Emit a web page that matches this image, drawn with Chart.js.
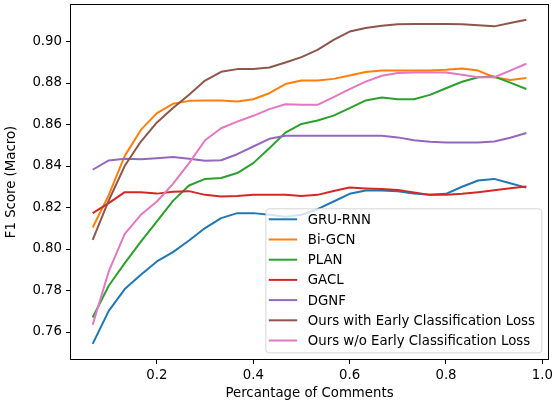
<!DOCTYPE html>
<html>
<head>
<meta charset="utf-8">
<script src="https://cdn.jsdelivr.net/npm/chart.js@4.4.1/dist/chart.umd.min.js"></script>
<style>
  html, body { margin: 0; padding: 0; background: #fff; }
  #wrap { width: 553px; height: 409px; }
</style>
</head>
<body>
<div id="wrap"><canvas id="f1Chart" width="553" height="409"></canvas></div>
<script>
// ===== Datos =====
const pctComments = [0.0667, 0.1, 0.1333, 0.1667, 0.2, 0.2333, 0.2667, 0.3, 0.3333, 0.3667,
  0.4, 0.4333, 0.4667, 0.5, 0.5333, 0.5667, 0.6, 0.6333, 0.6667, 0.7,
  0.7333, 0.7667, 0.8, 0.8333, 0.8667, 0.9, 0.9333, 0.9667];

const xTicks = [0.2, 0.4, 0.6, 0.8, 1.0];
const yTicks = [0.76, 0.78, 0.80, 0.82, 0.84, 0.86, 0.88, 0.90];

const gruRnn = [0.7543, 0.7702, 0.7807, 0.7876, 0.7940, 0.7985, 0.8041, 0.8101, 0.8149, 0.8173,
  0.8173, 0.8165, 0.8155, 0.8165, 0.8192, 0.8229, 0.8266, 0.8282, 0.8282, 0.8278,
  0.8268, 0.8261, 0.8266, 0.8300, 0.8330, 0.8338, 0.8317, 0.8296];
const biGcn = [0.8104, 0.8260, 0.8449, 0.8574, 0.8655, 0.8700, 0.8714, 0.8716, 0.8716, 0.8711,
  0.8722, 0.8751, 0.8795, 0.8812, 0.8812, 0.8820, 0.8836, 0.8853, 0.8860, 0.8860,
  0.8860, 0.8860, 0.8864, 0.8870, 0.8860, 0.8828, 0.8815, 0.8824];
const plan = [0.7670, 0.7823, 0.7932, 0.8036, 0.8133, 0.8232, 0.8306, 0.8338, 0.8342, 0.8366,
  0.8414, 0.8486, 0.8561, 0.8603, 0.8619, 0.8643, 0.8679, 0.8716, 0.8730, 0.8722,
  0.8722, 0.8743, 0.8775, 0.8806, 0.8828, 0.8831, 0.8802, 0.8771];
const gacl = [0.8173, 0.8221, 0.8274, 0.8274, 0.8267, 0.8276, 0.8279, 0.8261, 0.8253, 0.8256,
  0.8261, 0.8261, 0.8261, 0.8256, 0.8261, 0.8280, 0.8296, 0.8292, 0.8289, 0.8285,
  0.8273, 0.8261, 0.8261, 0.8266, 0.8274, 0.8283, 0.8293, 0.8301];
const dgnf = [0.8382, 0.8427, 0.8435, 0.8433, 0.8438, 0.8443, 0.8435, 0.8425, 0.8428, 0.8457,
  0.8494, 0.8531, 0.8546, 0.8546, 0.8546, 0.8546, 0.8546, 0.8546, 0.8546, 0.8538,
  0.8524, 0.8517, 0.8513, 0.8513, 0.8513, 0.8518, 0.8536, 0.8559];
const oursEcl = [0.8044, 0.8234, 0.8401, 0.8518, 0.8610, 0.8680, 0.8743, 0.8812, 0.8854, 0.8867,
  0.8868, 0.8875, 0.8899, 0.8925, 0.8960, 0.9008, 0.9048, 0.9065, 0.9076, 0.9083,
  0.9085, 0.9085, 0.9085, 0.9083, 0.9078, 0.9073, 0.9089, 0.9105];
const oursNoEcl = [0.7635, 0.7892, 0.8073, 0.8165, 0.8229, 0.8314, 0.8414, 0.8524, 0.8582, 0.8614,
  0.8642, 0.8674, 0.8698, 0.8695, 0.8695, 0.8732, 0.8771, 0.8807, 0.8835, 0.8848,
  0.8851, 0.8851, 0.8851, 0.8840, 0.8828, 0.8828, 0.8860, 0.8893];

const seriesNames = ['GRU-RNN', 'Bi-GCN', 'PLAN', 'GACL', 'DGNF',
  'Ours with Early Classification Loss', 'Ours w/o Early Classification Loss'];
const seriesValues = [gruRnn, biGcn, plan, gacl, dgnf, oursEcl, oursNoEcl];
const seriesColors = ['#1f77b4', '#ff7f0e', '#2ca02c', '#d62728', '#9467bd', '#8c564b', '#e377c2'];

// ===== Estilo =====
const FONT_PX = 13.3;
const FONT_FAMILY = '"DejaVu Sans", sans-serif';

Chart.defaults.font.family = FONT_FAMILY;
Chart.defaults.font.size = FONT_PX;
Chart.defaults.color = '#000';

// marco completo del área (como los spines de matplotlib)
const frameBox = {
  id: 'frameBox',
  afterDatasetsDraw(chart) {
    const { ctx, chartArea: a } = chart;
    ctx.save();
    ctx.strokeStyle = '#000';
    ctx.lineWidth = 1;
    ctx.strokeRect(a.left - 0.5, a.top - 0.5, a.right - a.left + 1, a.bottom - a.top + 1);
    ctx.restore();
  }
};

// leyenda dentro del área, abajo a la derecha
const insideLegend = {
  id: 'insideLegend',
  afterDraw(chart) {
    const { ctx, chartArea: a } = chart;
    const sets = chart.data.datasets;
    ctx.save();
    ctx.font = FONT_PX + 'px ' + FONT_FAMILY;
    const textW = Math.max(...sets.map(d => ctx.measureText(d.label).width));
    const rowH = 20.2;
    const right = a.right - 6.7;
    const bottom = a.bottom - 6.7;
    const h = 144;
    const top = bottom - h;
    const textX = right - 6.4 - textW;
    const handleEnd = textX - 10.6;
    const handleStart = handleEnd - 28.4;
    const left = handleStart - 3.4;

    ctx.beginPath();
    ctx.roundRect(left + 0.5, top + 0.5, right - left, h, 3);
    ctx.fillStyle = 'rgba(255,255,255,0.8)';
    ctx.fill();
    ctx.strokeStyle = 'rgba(204,204,204,0.8)';
    ctx.lineWidth = 1;
    ctx.stroke();

    ctx.textBaseline = 'middle';
    ctx.textAlign = 'left';
    sets.forEach((d, i) => {
      const y = top + 11 + i * rowH;
      ctx.beginPath();
      ctx.moveTo(handleStart, y);
      ctx.lineTo(handleEnd, y);
      ctx.strokeStyle = d.borderColor;
      ctx.lineWidth = 2;
      ctx.stroke();
      ctx.fillStyle = '#000';
      ctx.fillText(d.label, textX, y + 1);
    });
    ctx.restore();
  }
};

const datasets = seriesNames.map((name, i) => ({
  label: name,
  data: pctComments.map((x, j) => ({ x: x, y: seriesValues[i][j] })),
  borderColor: seriesColors[i],
  backgroundColor: seriesColors[i],
  borderWidth: 2,
  pointRadius: 0,
  tension: 0,
  borderJoinStyle: 'round',
  fill: false,
  order: seriesNames.length - i   // la última serie queda arriba, como en matplotlib
}));

const ctx = document.getElementById('f1Chart').getContext('2d');
const chart = new Chart(ctx, {
  type: 'line',
  data: { datasets: datasets },
  options: {
    responsive: false,
    animation: false,
    layout: { padding: { top: 5, right: 5, left: 0, bottom: 0 } },
    plugins: {
      legend: { display: false },
      tooltip: { enabled: false }
    },
    scales: {
      x: {
        type: 'linear',
        min: 0.0217,
        max: 1.0117,
        afterBuildTicks: s => { s.ticks = xTicks.map(v => ({ value: v })); },
        afterFit: s => { s.height = 50; s.paddingLeft = 0; s.paddingRight = 0; },
        ticks: {
          autoSkip: false,
          maxRotation: 0,
          padding: 4,
          color: '#000',
          callback: v => Number(v).toFixed(1)
        },
        grid: {
          drawOnChartArea: false,
          drawTicks: true,
          tickLength: 5,
          tickColor: '#000',
          tickWidth: 1
        },
        border: { display: false },
        title: {
          display: true,
          text: 'Percantage of Comments',
          color: '#000',
          padding: { top: 0, bottom: 7 }
        }
      },
      y: {
        type: 'linear',
        min: 0.747,
        max: 0.9176,
        afterBuildTicks: s => { s.ticks = yTicks.map(v => ({ value: v })); },
        afterFit: s => { s.width = 71; s.paddingTop = 0; s.paddingBottom = 0; },
        ticks: {
          autoSkip: false,
          padding: 4,
          color: '#000',
          callback: v => Number(v).toFixed(2)
        },
        grid: {
          drawOnChartArea: false,
          drawTicks: true,
          tickLength: 5,
          tickColor: '#000',
          tickWidth: 1
        },
        border: { display: false },
        title: {
          display: true,
          text: 'F1 Score (Macro)',
          color: '#000',
          padding: { top: 4, bottom: 0 }
        }
      }
    }
  },
  plugins: [frameBox, insideLegend]
});
</script>
</body>
</html>
